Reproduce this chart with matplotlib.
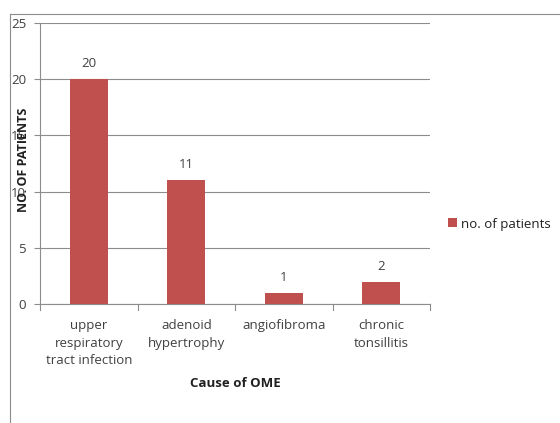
import matplotlib
matplotlib.use("Agg")
import matplotlib.pyplot as plt
from matplotlib.lines import Line2D
import numpy as np

categories = ["upper\nrespiratory\ntract infection", "adenoid\nhypertrophy", "angiofibroma", "chronic\ntonsillitis"]
values = [20, 11, 1, 2]
yticks = [0, 5, 10, 15, 20, 25]

plt.rcParams['font.family'] = ['Open Sans', 'DejaVu Sans']
fig = plt.figure(figsize=(5.6, 4.23), dpi=100)
ax = fig.add_axes([40/560, 1-304/423, 390/560, (304-23)/423])

fs = 9.5
x = np.arange(len(categories))
bars = ax.bar(x, values, width=0.39, color="#C0504D", label="no. of patients", zorder=3)
for xi, v in zip(x, values):
    ax.text(xi, v + 0.8, str(v), ha="center", va="bottom", fontsize=fs, color="#404040")

ax.set_xlim(-0.5, len(categories) - 0.5)
ax.set_ylim(0, 25)
ax.set_yticks(yticks)
ax.set_yticklabels([str(t) for t in yticks], fontsize=fs, color="#404040")
ax.yaxis.grid(True, color="#8c8c8c", linewidth=0.8, zorder=0)
ax.set_xticks(x)
ax.set_xticklabels(categories, fontsize=fs, color="#404040", linespacing=1.45)
ax.tick_params(axis="x", length=0, pad=11)
ax.tick_params(axis="y", length=4, color="#8c8c8c", pad=6)
for b in np.arange(-0.5, len(categories), 1.0):
    ax.plot([b, b], [0, -0.5], color="#8c8c8c", lw=0.8, clip_on=False)
for s in ["top", "right"]:
    ax.spines[s].set_visible(False)
ax.spines["left"].set_color("#8c8c8c")
ax.spines["bottom"].set_color("#8c8c8c")
ax.spines["left"].set_linewidth(0.8)
ax.spines["bottom"].set_linewidth(0.8)

ax.set_xlabel("Cause of OME", fontsize=fs, fontweight="bold", color="#202020", labelpad=7)
fig.text(24/560, 1-160/423, "NO. OF PATIENTS", rotation=90, ha="center", va="center",
         fontsize=9, fontweight="bold", color="#202020")

ax.legend(loc="center left", bbox_to_anchor=(436/560, 1-224/423), bbox_transform=fig.transFigure,
          frameon=False, fontsize=fs, handlelength=0.7, handleheight=0.7, handletextpad=0.3,
          labelcolor="#202020")

fig.add_artist(Line2D([10/560, 10/560], [1-14/423, 0], color="#8c8c8c", lw=0.8, transform=fig.transFigure))
fig.add_artist(Line2D([10/560, 1], [1-14/423, 1-14/423], color="#8c8c8c", lw=0.8, transform=fig.transFigure))

fig.savefig("out.png", dpi=100)
